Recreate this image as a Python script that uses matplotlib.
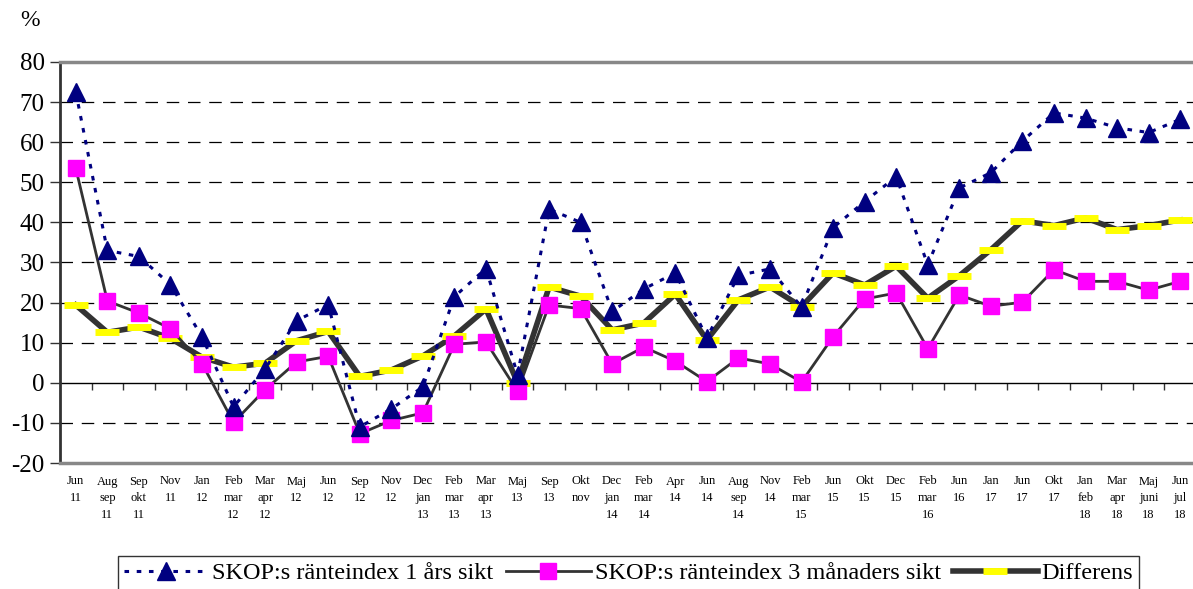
import matplotlib
matplotlib.use("Agg")
import matplotlib.pyplot as plt
import numpy as np

categories = ["Jun\n11", "Aug\nsep\n11", "Sep\nokt\n11", "Nov\n11", "Jan\n12", "Feb\nmar\n12",
              "Mar\napr\n12", "Maj\n12", "Jun\n12", "Sep\n12", "Nov\n12", "Dec\njan\n13",
              "Feb\nmar\n13", "Mar\napr\n13", "Maj\n13", "Sep\n13", "Okt\nnov", "Dec\njan\n14",
              "Feb\nmar\n14", "Apr\n14", "Jun\n14", "Aug\nsep\n14", "Nov\n14", "Feb\nmar\n15",
              "Jun\n15", "Okt\n15", "Dec\n15", "Feb\nmar\n16", "Jun\n16", "Jan\n17",
              "Jun\n17", "Okt\n17", "Jan\nfeb\n18", "Mar\napr\n18", "Maj\njuni\n18", "Jun\njul\n18"]

index_1yr = [72.5, 33, 31.5, 24.5, 11.5, -6, 3.5, 15.5, 19.5, -11, -6.5, -1,
             21.5, 28.5, 2, 43.3, 40, 17.8, 23.4, 27.4, 11.2, 26.8, 28.4, 18.9,
             38.7, 45.2, 51.4, 29.4, 48.6, 52.4, 60.3, 67.3, 66, 63.6, 62.4, 65.7]

index_3m = [53.5, 20.4, 17.4, 13.5, 4.8, -9.9, -1.7, 5.2, 6.6, -12.7, -9.4, -7.5,
            9.6, 10.2, -2.1, 19.4, 18.5, 4.7, 8.9, 5.4, 0.3, 6.2, 4.7, 0.2,
            11.5, 20.9, 22.4, 8.5, 21.9, 19.1, 20.1, 28.2, 25.3, 25.3, 23.1, 25.3]

differens = [19.4, 12.6, 13.9, 11.1, 6.4, 3.9, 4.9, 10.5, 12.8, 1.6, 3.2, 6.7,
             11.7, 18.4, 0.0, 23.9, 21.6, 13.2, 14.9, 22.1, 10.7, 20.7, 23.9, 19.0,
             27.4, 24.4, 29.1, 21.1, 26.7, 33.2, 40.4, 39.2, 41.1, 38.2, 39.2, 40.6]

yticks = list(range(-20, 81, 10))

plt.rcParams['font.family'] = ['Liberation Serif', 'DejaVu Serif']

fig = plt.figure(figsize=(11.93, 5.89), dpi=100)
W, H = 1193, 589
ax = fig.add_axes([60 / W, 1 - 463 / H, (1196 - 60) / W, (463 - 62) / H])

x = np.arange(len(categories))

# gridlines
for v in yticks:
    if v in (-20, 0, 80):
        continue
    ax.axhline(v, color='black', lw=0.9, ls=(0, (10, 7)), zorder=1)
ax.axhline(0, color='black', lw=1.0, zorder=1)

ax.plot(x, differens, color='#333333', lw=4.0, zorder=3,
        marker='_', markersize=17, markeredgewidth=5, markeredgecolor='#FFFF00',
        label='Differens')
ax.plot(x, index_3m, color='#333333', lw=2.0, zorder=4,
        marker='s', markersize=12, markerfacecolor='#FF00FF', markeredgecolor='#FF00FF',
        label='SKOP:s ränteindex 3 månaders sikt')
ax.plot(x, index_1yr, color='#000080', lw=2.2, ls=(0, (1.5, 2.5)), zorder=5,
        marker='^', markersize=13, markerfacecolor='#000080', markeredgecolor='#000080',
        label='SKOP:s ränteindex 1 års sikt')

ax.set_xlim(-0.5, len(categories) - 0.5)
ax.set_ylim(-20, 80)
ax.set_yticks(yticks)
ax.set_yticklabels([str(v) for v in yticks], fontsize=18)
ax.tick_params(axis='y', direction='out', length=7, width=1, color='#333333', pad=4)

ax.set_xticks(x)
ax.set_xticklabels(categories, fontsize=9, linespacing=1.55, va='top')
ax.tick_params(axis='x', length=0, pad=9)

ax.spines['right'].set_visible(False)
ax.spines['left'].set_color('#333333')
ax.spines['left'].set_linewidth(2)
ax.spines['top'].set_color('#888888')
ax.spines['top'].set_linewidth(2.5)
ax.spines['bottom'].set_color('#888888')
ax.spines['bottom'].set_linewidth(2.5)

# ticks on zero line between categories
sec = ax.secondary_xaxis(0.2)
sec.set_xticks(np.arange(0.5, len(categories) - 0.5, 1.0))
sec.set_xticklabels([])
sec.tick_params(direction='out', length=5, width=1, color='#333333')
sec.spines['bottom'].set_visible(False)

fig.text(30 / W, 1 - 20 / H, '%', fontsize=17, ha='center', va='center')

handles, labels = ax.get_legend_handles_labels()
order = [2, 1, 0]
leg = fig.legend([handles[i] for i in order], [labels[i] for i in order],
                 loc='upper center', bbox_to_anchor=(628.5 / W, 1 - 556 / H), ncol=3,
                 frameon=True, fancybox=False, edgecolor='black', fontsize=17.5,
                 handlelength=3.5, handletextpad=0.15, columnspacing=0.5,
                 borderpad=0.25, borderaxespad=0)
leg.get_frame().set_linewidth(1.0)

fig.savefig('out.png', dpi=100)
